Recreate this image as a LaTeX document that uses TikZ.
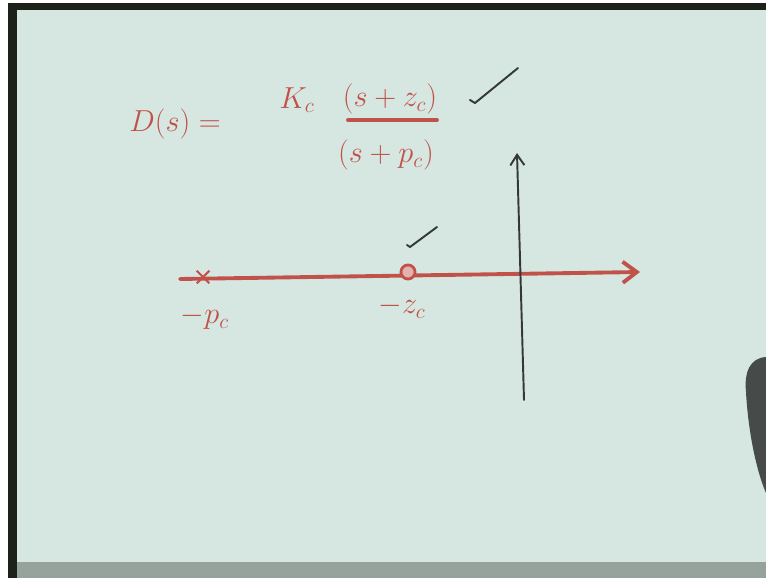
\documentclass[tikz,border=0pt]{standalone}
\usetikzlibrary{arrows.meta,shapes.misc}

\definecolor{board}{RGB}{214,231,225}
\definecolor{frame}{RGB}{28,34,26}
\definecolor{ledge}{RGB}{150,162,156}
\definecolor{marker}{RGB}{192,82,74}
\definecolor{pen}{RGB}{52,56,54}
\definecolor{hand}{RGB}{70,74,72}

\begin{document}
\begin{tikzpicture}
[
	x=0.02cm, y=-0.02cm,
	ink/.style={text=marker, font=\fontsize{18}{20}\selectfont, inner sep=0pt},
	redline/.style={draw=marker, line width=2.2pt, line cap=round},
	blackline/.style={draw=pen, line width=1.1pt, line cap=round, line join=round},
	pole/.style={cross out, draw=marker, line width=1.2pt, inner sep=0pt, minimum size=6pt},
	zero/.style={circle, draw=marker, fill=marker!45, line width=1.6pt, inner sep=0pt, minimum size=8pt}
]

	\useasboundingbox (0,0) rectangle (766,578);

	% board
	\fill[white] (0,0) rectangle (766,578);
	\fill[frame] (8,3) rectangle (766,578);
	\fill[board] (17,10) rectangle (766,562);
	\fill[ledge] (17,562) rectangle (766,578);
	\fill[hand] (766,357) .. controls (750,358) and (744,372) .. (746,392)
		.. controls (748,430) and (756,470) .. (766,493) -- cycle;

	% transfer function
	\node[ink] (lhs) at (175,124) {$D(s) =$};
	\node[ink] (gain) at (297,100) {$K_c$};
	\node[ink] (num) at (390,99) {$(s+z_c)$};
	\node[ink] (den) at (386,155) {$(s+p_c)$};
	\coordinate (barleft) at (348,120);
	\coordinate (barright) at (437,120);
	\draw[redline] (barleft) -- (barright);

	% ticks
	\draw[blackline] (470,100) -- (475,103) -- (518,68);
	\draw[blackline] (407,245) -- (410,247) -- (437,227);

	% axes
	\coordinate (reneg) at (180,279);
	\coordinate (repos) at (640,272);
	\draw[redline, -{Straight Barb[length=8pt,width=12pt]}] (reneg) -- (repos);
	\coordinate (imneg) at (524,400);
	\coordinate (impos) at (517,153);
	\draw[blackline, -{Straight Barb[length=6pt,width=8pt]}] (imneg) -- (impos);

	% pole and zero
	\node[pole] (p) at (203,277) {};
	\node[zero] (z) at (408,272) {};
	\node[ink] (plabel) at (205,318) {$-p_c$};
	\node[ink] (zlabel) at (402,307) {$-z_c$};

\end{tikzpicture}
\end{document}
